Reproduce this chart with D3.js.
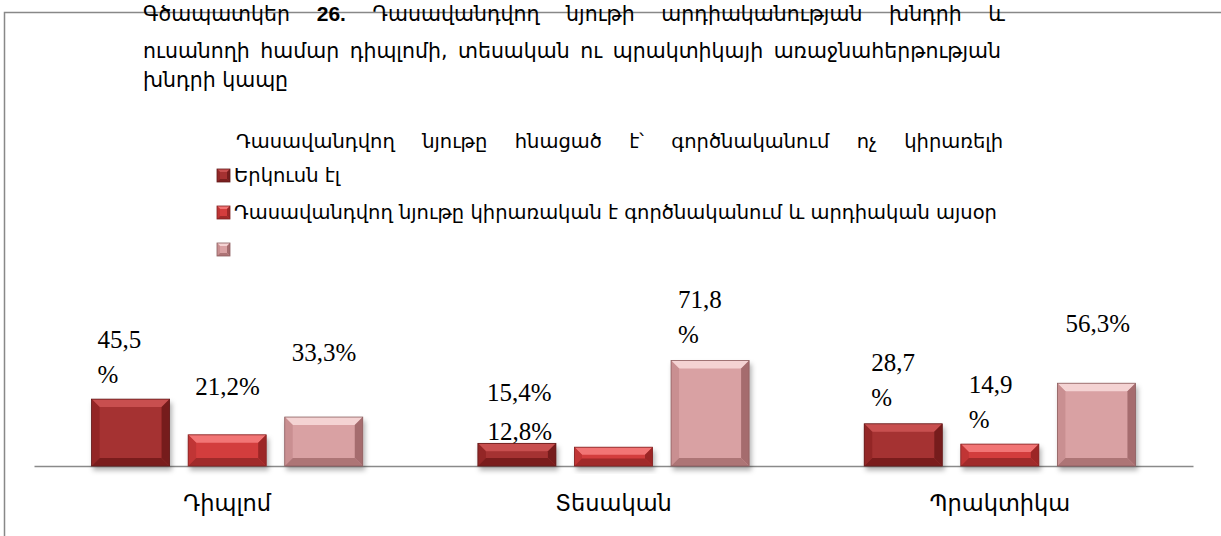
<!DOCTYPE html>
<html>
<head>
<meta charset="utf-8">
<script src="https://cdn.jsdelivr.net/npm/d3@7"></script>
<style>
  body { margin: 0; background: #fff; }
  svg { display: block; }
</style>
</head>
<body>
<div id="main"></div>
<script>
var categories = ["Դիպլոմ", "Տեսական", "Պրակտիկա"];
var seriesKeys = ["s1", "s2", "s3"];
var s1Values = [45.5, 15.4, 28.7];
var s2Values = [21.2, 12.8, 14.9];
var s3Values = [33.3, 71.8, 56.3];
var legendTitle = "Դասավանդվող նյութը հնացած է՝ գործնականում ոչ կիրառելի";
var legendLabels = ["Երկուսն էլ", "Դասավանդվող նյութը կիրառական է գործնականում և արդիական այսօր", ""];
var titleLines = [
  ["Գծապատկեր ", "26.", " Դասավանդվող նյութի արդիականության խնդրի և"],
  ["ուսանողի համար դիպլոմի, տեսական  ու պրակտիկայի առաջնահերթության"],
  ["խնդրի կապը"]
];
// which data labels Excel wrapped onto two lines
var wrapped = {s1: [true, false, true], s2: [false, false, true], s3: [false, true, false]};
// label nudges relative to the top left of its bar (dx, dy of last line)
var labelNudge = {
  s1: [[6, -16], [9, -42], [7, -18]],
  s2: [[7, -40], [-87, -7], [8, -16]],
  s3: [[7, -56], [7, -17], [8, -51]]
};

var armFont = "'DejaVu Sans', sans-serif";
var numFont = "'Liberation Serif', 'Times New Roman', serif";

var palette = {
  s1: {face: "#a53131", top: "#c85050", left: "#932828", right: "#761d1d", bottom: "#7a1f1f"},
  s2: {face: "#d33d3d", top: "#f27474", left: "#c03535", right: "#9c2727", bottom: "#a02a2a"},
  s3: {face: "#d9a1a3", top: "#f4d3d3", left: "#c98f91", right: "#a56c6e", bottom: "#ad7476"}
};

var values = {s1: s1Values, s2: s2Values, s3: s3Values};
var data = categories.map(function(c, i) {
  return {cat: c, vals: seriesKeys.map(function(k) { return {key: k, value: values[k][i], idx: i}; })};
});

var W = 1221, H = 536;
var canvas = d3.select("#main").append("svg")
  .attr("width", W)
  .attr("height", H);

var defs = canvas.append("defs");
var f = defs.append("filter").attr("id", "shadow")
  .attr("x", "-20%").attr("y", "-20%").attr("width", "150%").attr("height", "160%");
f.append("feDropShadow").attr("dx", 2).attr("dy", 4).attr("stdDeviation", 2.5)
  .attr("flood-color", "#000").attr("flood-opacity", 0.3);

// frame
canvas.append("path")
  .attr("d", "M4.5," + H + "V12.5H" + W)
  .attr("fill", "none")
  .attr("stroke", "#888")
  .attr("stroke-width", 1.5);

// justify a text element to a width by spreading the spaces
function justify(sel, width) {
  var node = sel.node();
  var natural = node.getComputedTextLength();
  var spaces = (sel.text().match(/ /g) || []).length;
  if (spaces > 0) sel.attr("word-spacing", Math.max(0, (width - natural) / spaces));
}

// title
var titleY = [21, 58, 87];
titleLines.forEach(function(parts, i) {
  var t = canvas.append("text")
    .attr("x", 143)
    .attr("y", titleY[i])
    .style("font-family", armFont)
    .style("font-size", "20.5px")
    .attr("fill", "#000");
  parts.forEach(function(p) {
    var ts = t.append("tspan").text(p);
    if (p === "26.") ts.style("font-family", "'Liberation Sans', sans-serif").style("font-weight", "bold").style("font-size", "21px");
  });
  if (i < 2) justify(t, 1005 - 143);
});

// legend
var legendHead = canvas.append("text")
  .attr("x", 236)
  .attr("y", 148)
  .style("font-family", armFont)
  .style("font-size", "19.5px")
  .text(legendTitle);
justify(legendHead, 1003 - 236);

var legend = canvas.selectAll(".legend").data(seriesKeys).enter().append("g")
  .attr("class", "legend")
  .attr("transform", function(d, i) { return "translate(217," + (169 + 37 * i) + ")"; });
legend.each(function(d) { bevelBox(d3.select(this), 0, 0, 13, 13, palette[d], 3); });
legend.append("text")
  .attr("x", 17)
  .attr("y", 13)
  .style("font-family", armFont)
  .style("font-size", "19.5px")
  .text(function(d, i) { return legendLabels[i]; });

// scales
var x0 = d3.scaleBand().domain(categories).range([34, 1193]);
var x1 = d3.scaleBand().domain(seriesKeys).range([0, x0.bandwidth()]).paddingInner(0.192).paddingOuter(0.596);
var y = d3.scaleLinear().domain([0, 100]).range([466, 319]);

// x axis
var xAxis = d3.axisBottom(x0).tickSize(0).tickPadding(29);
var gx = canvas.append("g")
  .attr("transform", "translate(0," + y(0) + ")")
  .call(xAxis);
gx.select(".domain").attr("stroke", "#8a8a8a").attr("stroke-width", 1.5);
gx.selectAll("text")
  .style("font-family", armFont)
  .style("font-size", "22.5px")
  .attr("fill", "#000");

function bevelBox(g, x, yy, w, h, c, b) {
  b = Math.min(b, h / 2.5, w / 2);
  g.append("rect").attr("x", x).attr("y", yy).attr("width", w).attr("height", h).attr("fill", c.face);
  var pts = function(a) { return a.map(function(p) { return p.join(","); }).join(" "); };
  g.append("polygon").attr("points", pts([[x, yy], [x + w, yy], [x + w - b, yy + b], [x + b, yy + b]])).attr("fill", c.top);
  g.append("polygon").attr("points", pts([[x, yy], [x + b, yy + b], [x + b, yy + h - b], [x, yy + h]])).attr("fill", c.left);
  g.append("polygon").attr("points", pts([[x + w, yy], [x + w, yy + h], [x + w - b, yy + h - b], [x + w - b, yy + b]])).attr("fill", c.right);
  g.append("polygon").attr("points", pts([[x, yy + h], [x + b, yy + h - b], [x + w - b, yy + h - b], [x + w, yy + h]])).attr("fill", c.bottom);
  g.append("rect").attr("x", x).attr("y", yy).attr("width", w).attr("height", h)
    .attr("fill", "none").attr("stroke", d3.color(c.bottom).darker(0.6)).attr("stroke-width", 0.8);
}

// bars
var groups = canvas.append("g").selectAll("g").data(data).enter().append("g")
  .attr("transform", function(d) { return "translate(" + x0(d.cat) + ",0)"; });
var bars = groups.selectAll(".bar").data(function(d) { return d.vals; }).enter().append("g")
  .attr("class", "bar")
  .attr("filter", "url(#shadow)");
bars.each(function(d) {
  bevelBox(d3.select(this), x1(d.key), y(d.value), x1.bandwidth(), y(0) - y(d.value), palette[d.key], 8);
});

// data labels
var labels = groups.selectAll(".lab").data(function(d) { return d.vals; }).enter().append("text")
  .attr("class", "lab")
  .style("font-family", numFont)
  .style("font-size", "25px")
  .attr("fill", "#000");
labels.each(function(d) {
  var s = d.value.toFixed(1).replace(".", ",");
  var nudge = labelNudge[d.key][d.idx];
  var lx = x1(d.key) + nudge[0];
  var ly = y(d.value) + nudge[1];
  var t = d3.select(this);
  if (wrapped[d.key][d.idx]) {
    t.append("tspan").attr("x", lx).attr("y", ly - 35).text(s);
    t.append("tspan").attr("x", lx).attr("y", ly).text("%");
  } else {
    t.append("tspan").attr("x", lx).attr("y", ly).text(s + "%");
  }
});
</script>
</body>
</html>
